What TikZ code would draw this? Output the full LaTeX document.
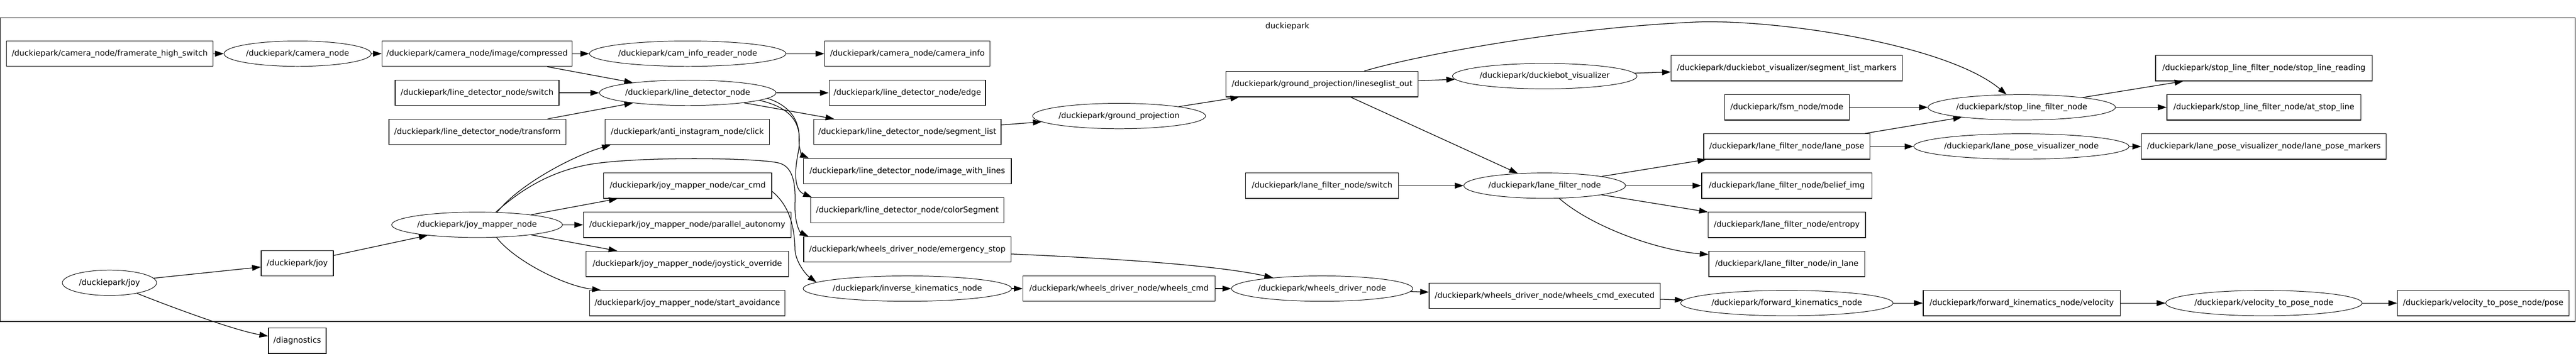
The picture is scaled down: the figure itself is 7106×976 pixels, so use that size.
\documentclass[tikz,border=0pt]{standalone}
\usepackage{fontspec}
\setmainfont{DejaVu Sans}
\usetikzlibrary{shapes.geometric,arrows.meta}
\begin{document}
\begin{tikzpicture}[x=1pt,y=-1pt,
  every node/.style={font=\fontsize{21.9}{26}\selectfont},
  topic/.style={draw,rectangle,line width=2pt,minimum height=70pt,inner sep=0pt},
  rosnode/.style={draw,ellipse,line width=1.4pt,minimum height=70pt,inner xsep=-10pt,inner ysep=0pt},
  conn/.style={line width=1.8pt,-{Triangle[length=24pt,width=16pt]}}]
\useasboundingbox (0,0) rectangle (7106,976);
\draw[line width=2pt] (1,49) rectangle (7104,887);
\node (clusterlabel) at (3551,73) {duckiepark};

\node[topic,minimum width=570pt] (fhs) at (302.6,148) {/duckiepark/camera\_node/framerate\_high\_switch};
\node[rosnode,minimum width=406pt] (camera) at (821,148) {/duckiepark/camera\_node};
\node[topic,minimum width=524pt] (comp) at (1316,148) {/duckiepark/camera\_node/image/compressed};
\node[rosnode,minimum width=542pt] (caminforeader) at (1897,148) {/duckiepark/cam\_info\_reader\_node};
\node[topic,minimum width=456pt] (caminfo) at (2503,148) {/duckiepark/camera\_node/camera\_info};
\node[topic,minimum width=452pt] (ldswitch) at (1316,256) {/duckiepark/line\_detector\_node/switch};
\node[rosnode,minimum width=487pt] (linedet) at (1897,256) {/duckiepark/line\_detector\_node};
\node[topic,minimum width=432pt] (edgetopic) at (2503,256) {/duckiepark/line\_detector\_node/edge};
\node[topic,minimum width=488pt] (transform) at (1317,364) {/duckiepark/line\_detector\_node/transform};
\node[topic,minimum width=453pt] (click) at (1896,364) {/duckiepark/anti\_instagram\_node/click};
\node[topic,minimum width=517pt] (seglist) at (2503,364) {/duckiepark/line\_detector\_node/segment\_list};
\node[topic,minimum width=574pt] (imglines) at (2503,472) {/duckiepark/line\_detector\_node/image\_with\_lines};
\node[topic,minimum width=464pt] (carcmd) at (1897,512) {/duckiepark/joy\_mapper\_node/car\_cmd};
\node[topic,minimum width=533pt] (colorseg) at (2503,580) {/duckiepark/line\_detector\_node/colorSegment};
\node[rosnode,minimum width=471pt] (joymapper) at (1316,620) {/duckiepark/joy\_mapper\_node};
\node[topic,minimum width=573pt] (parallel) at (1896,620) {/duckiepark/joy\_mapper\_node/parallel\_autonomy};
\node[topic,minimum width=572pt] (estop) at (2503,688) {/duckiepark/wheels\_driver\_node/emergency\_stop};
\node[topic,minimum width=559pt] (joystick) at (1896,728) {/duckiepark/joy\_mapper\_node/joystick\_override};
\node[topic,minimum width=539pt] (startav) at (1896,836) {/duckiepark/joy\_mapper\_node/start\_avoidance};
\node[rosnode,minimum width=260pt] (joy) at (302,780) {/duckiepark/joy};
\node[topic,minimum width=199pt] (joytopic) at (820,726) {/duckiepark/joy};
\node[topic,minimum width=159pt] (diag) at (820,940) {/diagnostics};
\node[rosnode,minimum width=575pt] (invkin) at (2503,796) {/duckiepark/inverse\_kinematics\_node};
\node[topic,minimum width=530pt] (wheelscmd) at (3087,796) {/duckiepark/wheels\_driver\_node/wheels\_cmd};
\node[rosnode,minimum width=477pt] (groundproj) at (3087,320) {/duckiepark/ground\_projection};
\node[topic,minimum width=530pt] (lineseg) at (3647,232) {/duckiepark/ground\_projection/lineseglist\_out};
\node[topic,minimum width=422pt] (lfswitch) at (3647,512) {/duckiepark/lane\_filter\_node/switch};
\node[rosnode,minimum width=500pt] (wheelsdriver) at (3647,796) {/duckiepark/wheels\_driver\_node};
\node[rosnode,minimum width=509pt] (visualizer) at (4261,210) {/duckiepark/duckiebot\_visualizer};
\node[rosnode,minimum width=446pt] (lanefilter) at (4261,512) {/duckiepark/lane\_filter\_node};
\node[topic,minimum width=637pt] (exec) at (4261,816) {/duckiepark/wheels\_driver\_node/wheels\_cmd\_executed};
\node[topic,minimum width=638pt] (markers) at (4929,188) {/duckiepark/duckiebot\_visualizer/segment\_list\_markers};
\node[topic,minimum width=344pt] (fsm) at (4929,296) {/duckiepark/fsm\_node/mode};
\node[topic,minimum width=458pt] (lanepose) at (4929,404) {/duckiepark/lane\_filter\_node/lane\_pose};
\node[topic,minimum width=470pt] (belief) at (4929,512) {/duckiepark/lane\_filter\_node/belief\_img};
\node[topic,minimum width=434pt] (entropy) at (4929,620) {/duckiepark/lane\_filter\_node/entropy};
\node[topic,minimum width=430pt] (inlane) at (4929,728) {/duckiepark/lane\_filter\_node/in\_lane};
\node[rosnode,minimum width=586pt] (fwdkin) at (4929,836) {/duckiepark/forward\_kinematics\_node};
\node[rosnode,minimum width=517pt] (stopline) at (5577,296) {/duckiepark/stop\_line\_filter\_node};
\node[rosnode,minimum width=594pt] (lpvis) at (5576,404) {/duckiepark/lane\_pose\_visualizer\_node};
\node[topic,minimum width=544pt] (velocity) at (5577,836) {/duckiepark/forward\_kinematics\_node/velocity};
\node[topic,minimum width=597pt] (reading) at (6245,188) {/duckiepark/stop\_line\_filter\_node/stop\_line\_reading};
\node[topic,minimum width=535pt] (atstop) at (6245,296) {/duckiepark/stop\_line\_filter\_node/at\_stop\_line};
\node[topic,minimum width=675pt] (lpmarkers) at (6245,404) {/duckiepark/lane\_pose\_visualizer\_node/lane\_pose\_markers};
\node[rosnode,minimum width=542pt] (veltopose) at (6245,836) {/duckiepark/velocity\_to\_pose\_node};
\node[topic,minimum width=473pt] (pose) at (6850,836) {/duckiepark/velocity\_to\_pose\_node/pose};

% connectors
\draw[conn] (fhs) -- (camera);
\draw[conn] (camera) -- (comp);
\draw[conn] (comp) -- (caminforeader);
\draw[conn] (comp) -- (linedet);
\draw[conn] (caminforeader) -- (caminfo);
\draw[conn] (ldswitch) -- (linedet);
\draw[conn] (transform) -- (linedet);
\draw[conn] (linedet) -- (edgetopic);
\draw[conn] (linedet) -- (seglist);
\draw[conn] (linedet.-4) .. controls (2185,293) and (2206,340) .. (2204,380) .. controls (2203,410) and (2212,428) .. ([xshift=16pt]imglines.north west);
\draw[conn] (linedet.-6) .. controls (2195,300) and (2214,350) .. (2202,420) .. controls (2190,480) and (2192,525) .. ([xshift=4pt]colorseg.north west);
\draw[conn] (seglist) -- (groundproj);
\draw[conn] (groundproj) -- (lineseg);
\draw[conn] (lineseg) -- (visualizer);
\draw[conn] (lineseg) .. controls (3880,160) and (4300,75) .. (4700,60) .. controls (4950,58) and (5380,130) .. (stopline);
\draw[conn] (lineseg) -- (lanefilter);
\draw[conn] (visualizer) -- (markers);
\draw[conn] (fsm) -- (stopline);
\draw[conn] (lanepose) -- (stopline);
\draw[conn] (stopline) -- (reading);
\draw[conn] (stopline) -- (atstop);
\draw[conn] (lfswitch) -- (lanefilter);
\draw[conn] (lanefilter) -- (lanepose);
\draw[conn] (lanefilter) -- (belief);
\draw[conn] (lanefilter) -- (entropy);
\draw[conn] (lanefilter) .. controls (4390,625) and (4570,690) .. ([yshift=-10pt]inlane.north west);
\draw[conn] (lanepose) -- (lpvis);
\draw[conn] (lpvis) -- (lpmarkers);
\draw[conn] (estop) .. controls (3050,712) and (3350,730) .. (wheelsdriver);
\draw[conn] (invkin) -- (wheelscmd);
\draw[conn] (wheelscmd) -- (wheelsdriver);
\draw[conn] (wheelsdriver) -- (exec);
\draw[conn] (exec) -- (fwdkin);
\draw[conn] (fwdkin) -- (velocity);
\draw[conn] (velocity) -- (veltopose);
\draw[conn] (veltopose) -- (pose);
\draw[conn] (joy) -- (joytopic);
\draw[conn] (joy.-21) .. controls (450,838) and (640,910) .. ([yshift=-23pt]diag.north west);
\draw[conn] (joytopic) -- (joymapper);
\draw[conn] (joymapper.32) .. controls (1430,510) and (1580,430) .. ([xshift=16pt]click.south west);
\draw[conn] (joymapper.34) .. controls (1440,520) and (1530,465) .. (1650,450) .. controls (1800,431) and (2100,436) .. (2150,450) .. controls (2185,460) and (2195,500) .. (2193,560) .. controls (2191,610) and (2205,640) .. ([xshift=14pt]estop.north west);
\draw[conn] (joymapper) -- (carcmd);
\draw[conn] (joymapper) -- (parallel);
\draw[conn] (joymapper) -- (joystick);
\draw[conn] (joymapper.-33) .. controls (1420,720) and (1560,790) .. ([xshift=32pt]startav.north west);
\draw[conn] ([yshift=-16pt]carcmd.east) .. controls (2175,565) and (2192,620) .. (2193,690) .. controls (2195,720) and (2220,755) .. (invkin.176);
\end{tikzpicture}
\end{document}
